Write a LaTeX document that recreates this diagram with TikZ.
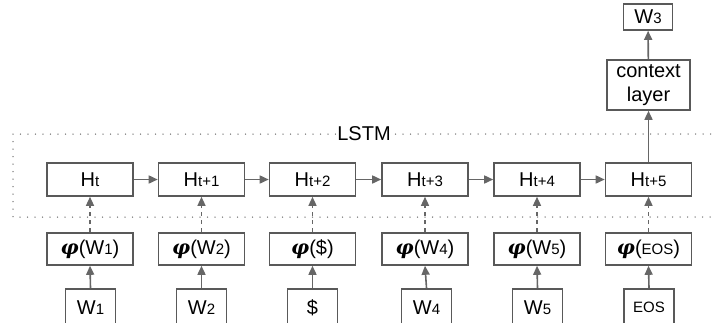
\documentclass[tikz,border=0pt]{standalone}
\usepackage{fontspec}
\setmainfont{Liberation Sans}
\newfontfamily\phifont{DejaVu Serif}
\usetikzlibrary{arrows.meta}
\definecolor{boxline}{HTML}{595959}
\definecolor{arrline}{HTML}{666666}
\definecolor{dotline}{HTML}{777777}
\newcommand\sbs[1]{{\fontsize{15}{15}\selectfont #1}}
\newcommand\phib{{\phifont\bfseries\itshape φ}}
\begin{document}
\begin{tikzpicture}[x=1pt,y=-1pt,
  every node/.style={font=\fontsize{20}{23}\selectfont, text=black},
  hbox/.style={draw=boxline, line width=1.6pt, minimum width=86pt, minimum height=33pt, inner sep=0pt},
  wbox/.style={draw=boxline, line width=1.6pt, minimum width=50pt, minimum height=38pt, inner sep=0pt, anchor=north},
  arr/.style={draw=arrline, line width=1.6pt, -{Triangle[length=9pt,width=8pt]}},
  darr/.style={arr, line width=1.4pt, dash pattern=on 4.5pt off 3.5pt},
  dotbox/.style={draw=dotline, line width=1.5pt, line cap=round, dash pattern=on 0pt off 7.5pt}]
\useasboundingbox (0,0) rectangle (712,322);
\clip (0,0) rectangle (712,322);
% LSTM region
\draw[dotbox] (13,134) rectangle (740,217);
\node[fill=white, inner sep=1.5pt] (lstm) at (364,134) {LSTM};
% H row
\node[hbox] (h0) at (90,179.5) {H\sbs{t}};
\node[hbox] (h1) at (201.5,179.5) {H\sbs{t+1}};
\node[hbox] (h2) at (312.5,179.5) {H\sbs{t+2}};
\node[hbox] (h3) at (425,179.5) {H\sbs{t+3}};
\node[hbox] (h4) at (537,179.5) {H\sbs{t+4}};
\node[hbox] (h5) at (648.5,179.5) {H\sbs{t+5}};
% phi row
\node[hbox, minimum height=32pt] (p0) at (90,249) {\phib(W\sbs{1})};
\node[hbox, minimum height=32pt] (p1) at (201.5,249) {\phib(W\sbs{2})};
\node[hbox, minimum height=32pt] (p2) at (312.5,249) {\phib(\$)};
\node[hbox, minimum height=32pt] (p3) at (425,249) {\phib(W\sbs{4})};
\node[hbox, minimum height=32pt] (p4) at (537,249) {\phib(W\sbs{5})};
\node[hbox, minimum height=32pt] (p5) at (648.5,249) {\phib(\sbs{EOS})};
% W row
\node[wbox] (w0) at (90.5,288) {W\sbs{1}};
\node[wbox] (w1) at (201.5,288) {W\sbs{2}};
\node[wbox] (w2) at (312.5,288) {\$};
\node[wbox] (w3) at (426.5,288) {W\sbs{4}};
\node[wbox] (w4) at (537.5,288) {W\sbs{5}};
\node[wbox] (w5) at (649,288) {\sbs{EOS}};
% top
\node[hbox, minimum width=83pt, minimum height=50pt, align=center, font=\fontsize{20}{24}\selectfont] (ctx) at (648.5,85) {context\\layer};
\node[hbox, minimum width=49pt, minimum height=26pt] (wt) at (648,17) {W\sbs{3}};
% connectors
\foreach \i/\j in {0/1,1/2,2/3,3/4,4/5} \draw[arr] (h\i) -- (h\j);
\foreach \i in {0,...,5} {
  \draw[arr] (w\i.north) -- (p\i.south);
  \draw[darr] (p\i.north) -- (h\i.south);
}
\draw[arr] (h5) -- (ctx);
\draw[arr] (ctx) -- (wt);
\end{tikzpicture}
\end{document}
